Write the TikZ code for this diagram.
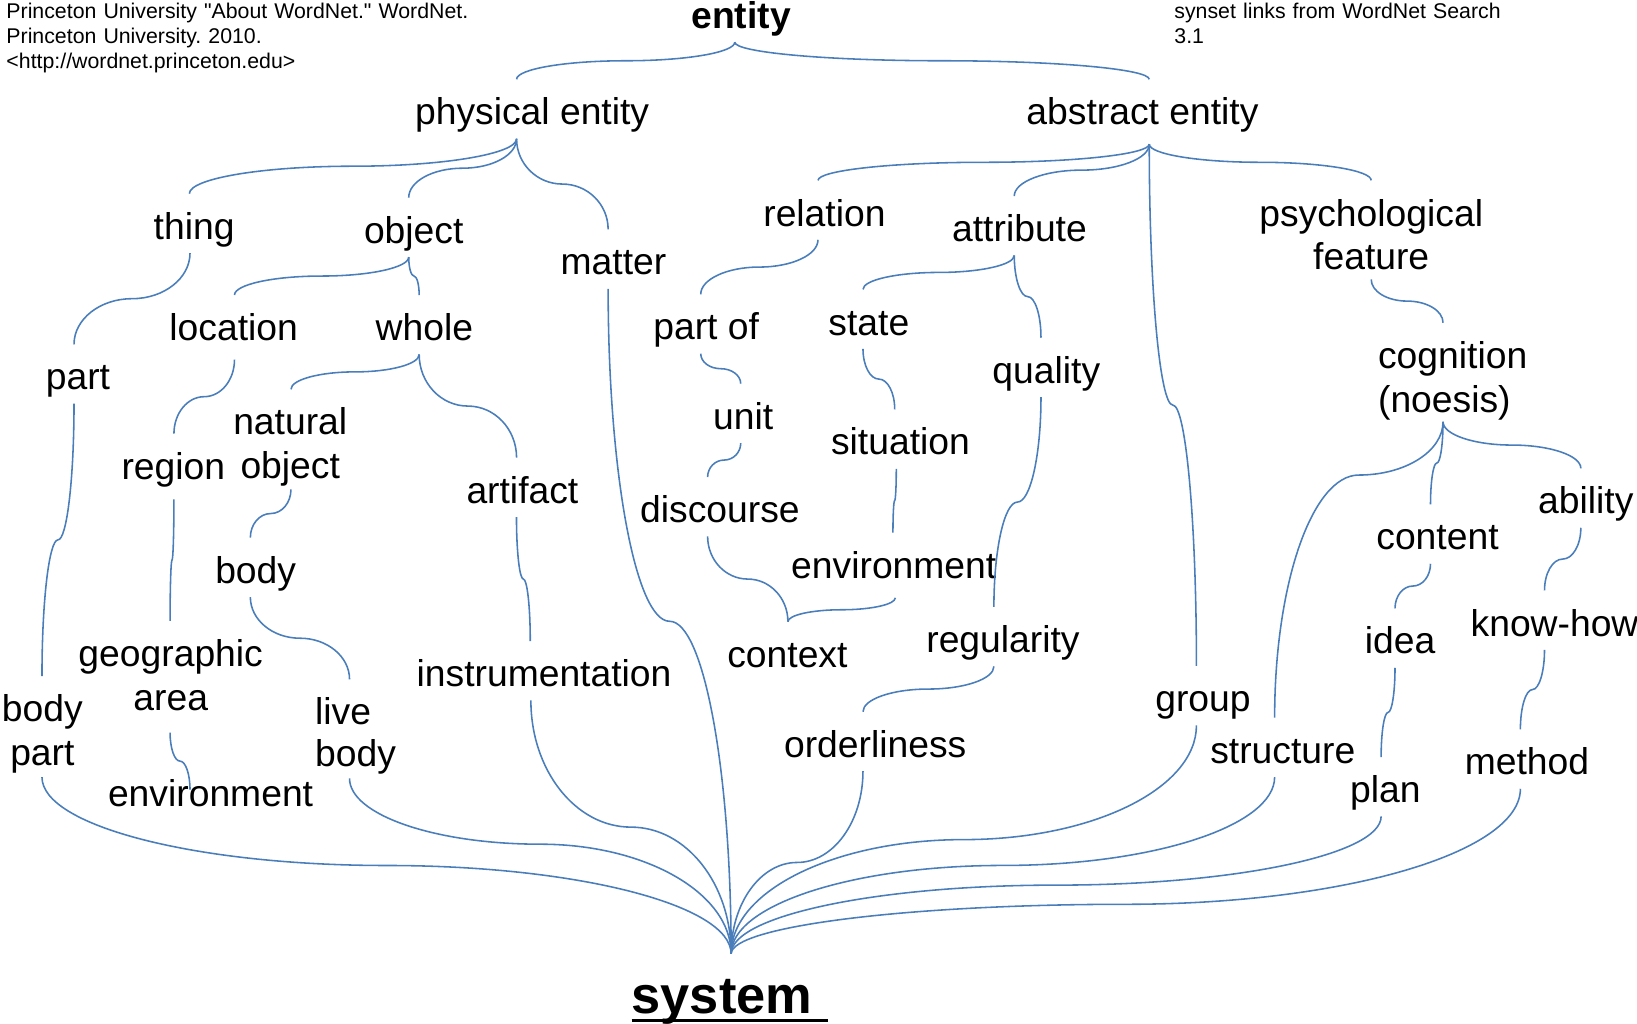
\documentclass[tikz,border=0pt]{standalone}
\usepackage{fontspec}
\setmainfont{Liberation Sans}
\newfontfamily\notefamily{Liberation Sans}
\usetikzlibrary{calc}
\definecolor{linkblue}{HTML}{4A7EBB}
\newcommand\lblfont{\fontsize{35.7pt}{42pt}\selectfont}
\newcommand\notefont{\notefamily\fontsize{20.4pt}{24pt}\selectfont\frenchspacing}

\tikzset{
  % brace-like S connector: vertical at both ends, horizontal at the kink
  kink/.store in=\kinkfrac, kink=0.5,
  link/.style={draw=linkblue, line width=1.5pt, to path={
     let \p1=(\tikztostart), \p2=(\tikztotarget),
         \p3=({0.5*(\x1+\x2)},{\y1+\kinkfrac*(\y2-\y1)}) in
     .. controls (\x1,{\y1+0.5523*(\y3-\y1)}) and ({\x3-0.5523*(\x3-\x1)},\y3) .. (\p3)
     .. controls ({\x3+0.5523*(\x2-\x3)},\y3) and (\x2,{\y2-0.5523*(\y2-\y3)}) .. (\p2)}},
  term/.style={font=\lblfont, inner sep=0pt, anchor=base, text height=43.5pt, text depth=13pt},
  termtwo/.style={term, text depth=55pt, text width=#1, align=center},
  note/.style={font=\notefont, inner sep=0pt, anchor=base west, text width=#1, align=left},
}

\begin{document}
\begin{tikzpicture}[x=1pt, y=-1pt]
\useasboundingbox (0,0) rectangle (1568,980);

% source notes
\node[note=460pt] (src) at (6,17.6) {Princeton University "About WordNet." WordNet.\\Princeton University. 2010.\\<http://wordnet.princeton.edu>};
\node[note=330pt] (ver) at (1124.7,17.6) {synset links from WordNet Search\\3.1};

% synsets
\node[term, font=\lblfont\bfseries] (en) at (709.9,27.2) {entity};
\node[term] (pe) at (509.7,119.7) {physical entity};
\node[term] (ae) at (1094.3,119.7) {abstract entity};
\node[term] (th) at (185.9,229.2) {thing};
\node[term] (ob) at (396.3,233) {object};
\node[term] (ma) at (587.6,263.4) {matter};
\node[term] (re) at (789.7,216.5) {relation};
\node[term] (at) at (976.5,231.5) {attribute};
\node[termtwo=225pt] (ps) at (1313.4,216.5) {psychological\\feature};
\node[term] (lo) at (223.8,326.3) {location};
\node[term] (wh) at (406.5,326.3) {whole};
\node[term] (pa) at (74.7,373.5) {part};
\node[term] (po) at (676.4,325.6) {part of};
\node[term] (st) at (832.2,320.9) {state};
\node[term] (qu) at (1002.2,367.2) {quality};
\node[termtwo=150pt, align=left] (co) at (1395,352.8) {cognition\\(noesis)};
\node[termtwo=120pt] (no) at (278,416.6) {natural\\object};
\node[term] (rg) at (166,459.1) {region};
\node[term] (un) at (711.8,411.2) {unit};
\node[term] (si) at (862.5,435.8) {situation};
\node[term] (ar) at (500.4,482.1) {artifact};
\node[term] (di) at (689.6,500.6) {discourse};
\node[term] (ab) at (1519,492.3) {ability};
\node[term] (ct) at (1376.9,526.8) {content};
\node[term] (bo) at (244.9,558.7) {body};
\node[term] (em) at (856.1,553.9) {environment};
\node[term] (id) at (1341,626.4) {idea};
\node[term] (kh) at (1489,609.2) {know-how};
\node[termtwo=187pt] (ga) at (163.5,638.5) {geographic\\area};
\node[term] (cx) at (754.2,639.2) {context};
\node[term] (rl) at (960.7,625.1) {regularity};
\node[term] (in) at (521.1,657.7) {instrumentation};
\node[termtwo=90pt] (bp) at (40.6,691.2) {body\\part};
\node[termtwo=90pt, align=left, font=\fontsize{35.7pt}{40pt}\selectfont, text depth=53pt] (lb) at (346.8,694.4) {live\\body};
\node[term] (gr) at (1152.3,681.6) {group};
\node[term] (od) at (838.3,725.4) {orderliness};
\node[term] (sr) at (1228.7,731.1) {structure};
\node[term] (pl) at (1327,768.8) {plan};
\node[term] (me) at (1462.6,742.3) {method};
\node[term] (ev) at (201.7,772.6) {environment};
\node[term, font=\fontsize{50.2pt}{60pt}\selectfont\bfseries, text height=56.8pt, text depth=10pt] (sy) at (698.5,970.6) {\rlap{\rule[-8.5pt]{188pt}{2.6pt}}system\kern14pt};

% top level
\draw[link] ([xshift=-6.1pt]en.south) to ([xshift=-14.9pt]pe.north);
\draw[link] ([xshift=-6.1pt]en.south) to ([xshift=6.5pt]ae.north);
% physical entity
\draw[link] ([xshift=-14.9pt]pe.south) to ([xshift=-4.5pt]th.north);
\draw[link] ([xshift=-14.9pt]pe.south) to ([xshift=-4.8pt]ob.north);
\draw[link] ([xshift=-14.9pt]pe.south) to ([xshift=-5.1pt]ma.north);
% abstract entity
\draw[link] ([shift={(6.5pt,-5.2pt)}]ae.south) to ([xshift=-6.2pt]re.north);
\draw[link] ([shift={(6.5pt,-5.2pt)}]ae.south) to ([xshift=-5pt]at.north);
\draw[link] ([shift={(6.5pt,-5.2pt)}]ae.south) to ([xshift=-6.3pt]gr.north);
\draw[link] ([shift={(6.5pt,-5.2pt)}]ae.south) to (ps.north);
% thing, object
\draw[link] ([xshift=-3.9pt]th.south) to ([xshift=-3.8pt]pa.north);
\draw[link] ([xshift=-4.8pt]ob.south) to ([xshift=0.8pt]lo.north);
\draw[link] ([xshift=-4.8pt]ob.south) to ([xshift=-5pt]wh.north);
% relation, attribute, psychological feature
\draw[link] ([xshift=-6.2pt]re.south) to ([xshift=-5.2pt]po.north);
\draw[link] ([xshift=-5pt]at.south) to ([xshift=-5.6pt]st.north);
\draw[link] ([xshift=-5pt]at.south) to ([xshift=-5.1pt]qu.north);
\draw[link] ([yshift=4pt]ps.south) to ([xshift=-12.8pt]co.north);
% location, whole
\draw[link] ([shift={(0.8pt,-5pt)}]lo.south) to ([xshift=0.6pt]rg.north);
\draw[link] ([xshift=-5pt]wh.south) to ([xshift=0.7pt]no.north);
\draw[link] ([xshift=-5pt]wh.south) to ([xshift=-5.6pt]ar.north);
% part
\draw[link] ([xshift=-3.8pt]pa.south) to ([xshift=-0.4pt]bp.north);
% part of, state, quality
\draw[link] ([xshift=-5.2pt]po.south) to ([xshift=-2.3pt]un.north);
\draw[link] ([xshift=-5.6pt]st.south) to ([xshift=-5.5pt]si.north);
\draw[link] ([xshift=-5.1pt]qu.south) to ([xshift=-8.7pt]rl.north);
% unit, situation
\draw[link] ([xshift=-2.3pt]un.south) to ([xshift=-11.8pt]di.north);
\draw[link] ([xshift=-4pt]si.south) to ([xshift=-0.8pt]em.north);
% cognition
\draw[link, kink=0.18] ([shift={(-12.8pt,4pt)}]co.south) to ([xshift=-7.8pt]sr.north);
\draw[link] ([shift={(-12.8pt,4pt)}]co.south) to ([xshift=-6.7pt]ct.north);
\draw[link] ([shift={(-12.8pt,4pt)}]co.south) to ([xshift=-4.8pt]ab.north);
% region, natural object, artifact
\draw[link] ([shift={(0.6pt,-6pt)}]rg.south) to ([xshift=-0.6pt]ga.north);
\draw[link] ([shift={(0.7pt,3pt)}]no.south) to ([xshift=-5.1pt]bo.north);
\draw[link] ([xshift=-5.7pt]ar.south) to ([xshift=-13.2pt]in.north);
% discourse and environment meet at context
\draw[link] ([xshift=-11.8pt]di.south) to ([xshift=0.5pt]cx.north);
\draw[link] ([shift={(1.5pt,-5.5pt)}]em.south) to ([xshift=0.5pt]cx.north);
% content, ability
\draw[link] ([xshift=-6.7pt]ct.south) to ([xshift=-4.8pt]id.north);
\draw[link] ([xshift=-4.8pt]ab.south) to ([xshift=-9.6pt]kh.north);
% body, regularity, geographic area, idea, know-how
\draw[link] ([xshift=-5.1pt]bo.south) to ([xshift=-12pt]lb.north);
\draw[link] ([xshift=-8.7pt]rl.south) to ([xshift=-11.7pt]od.north);
\draw[link] ([shift={(-0.6pt,-8pt)}]ga.south) to ([shift={(-19.7pt,-27.5pt)}]ev.north);
\draw[link] ([xshift=-4.8pt]id.south) to ([xshift=-4.1pt]pl.north);
\draw[link] ([xshift=-9.6pt]kh.south) to ([xshift=-6.3pt]me.north);
% everything that converges on system
\draw[link] ([shift={(-0.4pt,2pt)}]bp.south) to ([xshift=1.8pt]sy.north);
\draw[link, kink=0.375] ([shift={(-12pt,2pt)}]lb.south) to ([xshift=1.8pt]sy.north);
\draw[link] ([xshift=-12.6pt]in.south) to ([xshift=1.8pt]sy.north);
\draw[link] ([xshift=-5.1pt]ma.south) to ([xshift=1.8pt]sy.north);
\draw[link] ([xshift=-11.7pt]od.south) to ([xshift=1.8pt]sy.north);
\draw[link] ([xshift=-6.3pt]gr.south) to ([xshift=1.8pt]sy.north);
\draw[link] ([xshift=-7.8pt]sr.south) to ([xshift=1.8pt]sy.north);
\draw[link] ([xshift=-4.1pt]pl.south) to ([xshift=1.8pt]sy.north);
\draw[link, kink=0.7] ([xshift=-6.3pt]me.south) to ([xshift=1.8pt]sy.north);
\end{tikzpicture}
\end{document}
